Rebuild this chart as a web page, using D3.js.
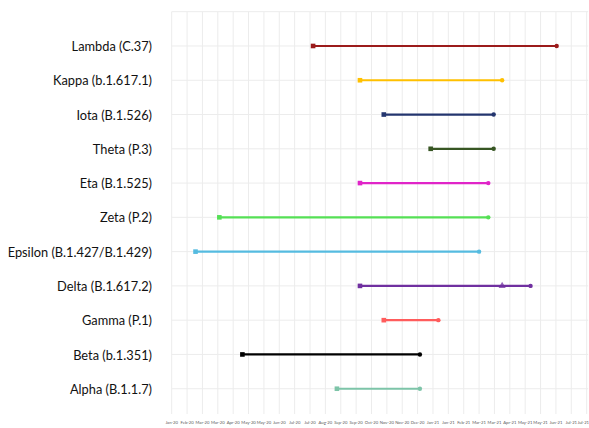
<!DOCTYPE html>
<html><head><meta charset="utf-8">
<script src="https://cdn.jsdelivr.net/npm/d3@7"></script>
<style>body{margin:0;background:#fff;} svg{display:block;}</style>
</head><body>
<svg id="chart" width="589" height="428"></svg>
<script>
const variants = ["Lambda (C.37)","Kappa (b.1.617.1)","Iota (B.1.526)","Theta (P.3)","Eta (B.1.525)","Zeta (P.2)","Epsilon (B.1.427/B.1.429)","Delta (B.1.617.2)","Gamma (P.1)","Beta (b.1.351)","Alpha (B.1.1.7)"];
const startDates = ["2020-08-01","2020-10-01","2020-11-01","2021-01-01","2020-10-01","2020-04-01","2020-03-01","2020-10-01","2020-11-01","2020-05-01","2020-09-01"];
const midDates   = [null,null,null,null,null,null,null,"2021-04-04",null,null,null];
const endDates   = ["2021-06-14","2021-04-04","2021-03-24","2021-03-24","2021-03-17","2021-03-17","2021-03-05","2021-05-11","2021-01-11","2020-12-18","2020-12-18"];
const colors = ["#9b1b1b","#ffc000","#23356e","#375623","#e024c8","#55e055","#55bbe0","#7030a0","#ff5c5c","#000000","#7dc4a8"];
const tickStart = "2020-01-30";
const tickStepDays = 20;
const tickCount = 28;
const axisEnd = "2021-07-25";

const parse = d3.utcParse("%Y-%m-%d");
const svg = d3.select("#chart");
const pLeft = 171.7, pRight = 588.2, pTop = 11.7, pBottom = 414;

const x = d3.scaleUtc().domain([parse(tickStart), parse(axisEnd)]).range([pLeft, pRight]);
const y = d3.scaleLinear().domain([0, 12]).range([423, pTop]);

const ticks = d3.range(tickCount).map(i => d3.utcDay.offset(parse(tickStart), i * tickStepDays));
const fmt = d3.utcFormat("%b-%y");

// grid
const g = svg.append("g");
g.selectAll("line.v").data(ticks).join("line")
  .attr("x1", d => x(d)).attr("x2", d => x(d))
  .attr("y1", pTop).attr("y2", pBottom)
  .attr("stroke", "#ececec").attr("stroke-width", 1);
g.selectAll("line.h").data(d3.range(1, 13)).join("line")
  .attr("x1", pLeft).attr("x2", pRight)
  .attr("y1", d => y(d)).attr("y2", d => y(d))
  .attr("stroke", "#ececec").attr("stroke-width", 1);

// x tick labels
svg.append("g").selectAll("text").data(ticks).join("text")
  .attr("x", (d, i) => i === tickCount - 1 ? 589 : x(d)).attr("y", 424)
  .attr("text-anchor", (d, i) => i === tickCount - 1 ? "end" : "middle")
  .attr("font-family", "Lato, 'Open Sans', sans-serif")
  .attr("font-size", 4.2)
  .attr("fill", "#595959")
  .text(d => fmt(d));

// category labels
const n = variants.length;
svg.append("g").selectAll("text").data(variants).join("text")
  .attr("x", 152).attr("y", (d, i) => y(n - i) + 0.6)
  .attr("dy", "0.35em")
  .attr("text-anchor", "end")
  .attr("font-family", "Lato, 'Open Sans', sans-serif")
  .attr("font-size", 12.8)
  .attr("fill", "#111")
  .text(d => d);

// bars
const rows = variants.map((v, i) => ({
  v, yv: n - i, s: parse(startDates[i]), m: midDates[i] ? parse(midDates[i]) : null,
  e: parse(endDates[i]), c: colors[i]
}));
const mk = svg.append("g");
rows.forEach(r => {
  const yy = y(r.yv);
  mk.append("line").attr("x1", x(r.s)).attr("x2", x(r.e)).attr("y1", yy).attr("y2", yy)
    .attr("stroke", r.c).attr("stroke-width", 2.2);
  mk.append("rect").attr("x", x(r.s) - 2.3).attr("y", yy - 2.3).attr("width", 4.6).attr("height", 4.6)
    .attr("fill", r.c);
  if (r.m) {
    mk.append("path").attr("d", d3.symbol(d3.symbolTriangle, 22)())
      .attr("transform", `translate(${x(r.m)},${yy})`).attr("fill", r.c).attr("opacity", 0.75);
  }
  mk.append("circle").attr("cx", x(r.e)).attr("cy", yy).attr("r", 2.2).attr("fill", r.c);
});
</script>
</body></html>
